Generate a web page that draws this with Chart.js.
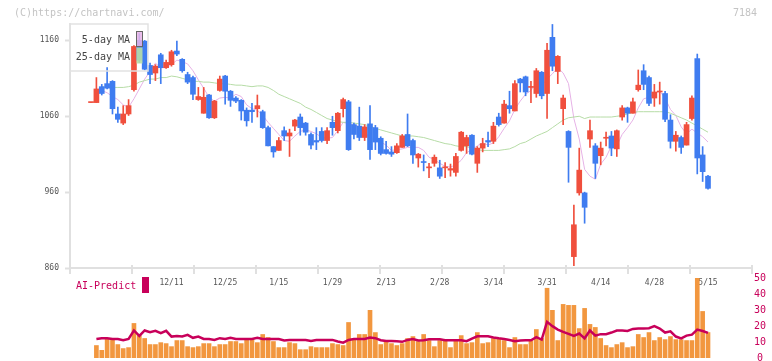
<!DOCTYPE html>
<html>
<head>
<meta charset="utf-8">
<script src="https://cdn.jsdelivr.net/npm/chart.js@4.4.1/dist/chart.umd.min.js"></script>
<style>
  html, body { margin: 0; padding: 0; background: #fff; }
  #wrap { position: relative; width: 772px; height: 361px; overflow: hidden; font-family: "DejaVu Sans Mono", monospace; }
  #wrap canvas { position: absolute; left: 0; top: 0; }
  .note { position: absolute; top: 6px; font-size: 10px; line-height: 13px; color: #c4c4c4; }
</style>
</head>
<body>
<div id="wrap">
  <canvas id="price" width="772" height="361"></canvas>
  <canvas id="volume" width="772" height="378"></canvas>
  <div class="note" style="left:14px">(C)https://chartnavi.com/</div>
  <div class="note" style="right:15px">7184</div>
</div>
<script>
// daily candles, 11/20 .. 5/15
const OPEN = [1078,1078,1099,1103,1106,1063,1051,1063,1095,1160,1159,1127,1117,1141,1124,1128,1146,1135,1115,1111,
  1082,1064,1088,1058,1094,1113,1093,1084,1081,1068,1068,1070,1066,1045,1020,1015,1041,1034,1047,1059,
  1051,1036,1028,1040,1028,1052,1041,1070,1079,1049,1047,1032,1050,1045,1031,1016,1013,1012,1019,1036,
  1028,1005,1000,992,998,992,992,989,986,1015,1021,1035,998,1018,1028,1027,1059,1051,1074,1067,
  1109,1112,1098,1090,1118,1090,1164,1119,1070,1040,875,959,959,1030,1021,1008,1031,1034,1017,1059,
  1071,1064,1095,1120,1111,1084,1092,1090,1055,1027,1032,1022,1057,1136,1009,981];
const HIGH = [1078,1111,1102,1124,1107,1072,1074,1082,1153,1169,1160,1130,1128,1143,1134,1147,1159,1136,1118,1113,
  1098,1098,1089,1081,1113,1114,1094,1086,1082,1071,1077,1088,1068,1047,1020,1032,1046,1043,1056,1063,
  1052,1038,1045,1045,1045,1060,1065,1084,1081,1051,1072,1049,1074,1048,1033,1027,1020,1024,1036,1063,
  1030,1011,1009,998,1009,1002,999,997,1011,1040,1035,1036,1020,1031,1039,1052,1064,1081,1093,1107,
  1110,1113,1106,1123,1119,1156,1181,1140,1088,1041,943,1018,960,1055,1024,1026,1039,1040,1042,1074,
  1072,1084,1121,1128,1113,1102,1105,1093,1062,1040,1034,1052,1087,1142,1020,982];
const LOW = [1078,1078,1088,1096,1063,1052,1049,1061,1093,1131,1121,1103,1107,1103,1123,1126,1140,1118,1103,1082,
  1081,1064,1057,1057,1093,1076,1073,1078,1055,1047,1052,1059,1044,1021,1006,1015,1028,1007,1041,1035,
  1035,1017,1016,1026,1024,1035,1038,1059,1015,1030,1028,1028,1003,1016,1009,1010,1007,1011,1019,1020,
  998,993,988,979,994,978,979,981,981,1014,1011,1009,986,1013,1020,1024,1047,1051,1064,1067,
  1092,1087,1078,1085,1083,1057,1120,1103,1049,973,863,956,919,1019,978,996,1021,1008,1007,1055,
  1052,1064,1093,1095,1074,1073,1076,1053,1018,1014,1011,1022,1055,984,974,964];
const CLOSE = [1078,1096,1090,1097,1070,1056,1063,1074,1152,1134,1122,1115,1126,1124,1131,1145,1142,1120,1105,1089,
  1086,1085,1058,1080,1109,1093,1081,1080,1067,1054,1066,1074,1045,1021,1013,1028,1034,1038,1055,1045,
  1039,1022,1026,1028,1041,1045,1064,1082,1016,1036,1032,1046,1016,1026,1011,1011,1010,1021,1034,1021,
  1009,1010,999,993,1006,981,993,991,1007,1039,1032,1010,1018,1024,1026,1047,1049,1076,1070,1103,
  1104,1092,1099,1120,1087,1147,1126,1139,1084,1019,917,989,940,1041,998,1018,1032,1018,1041,1071,
  1064,1079,1101,1102,1077,1092,1093,1056,1027,1035,1019,1049,1084,1005,987,965];

const MA5 = [null,null,1094,1091,1086,1082,1075,1072,1083,1096,1109,1119,1130,1124,1124,1128,1134,1132,1129,1120,
  1108,1097,1085,1080,1084,1085,1084,1089,1086,1075,1070,1068,1061,1052,1044,1036,1028,1027,1034,1040,
  1042,1040,1037,1032,1031,1032,1041,1052,1050,1049,1046,1042,1029,1031,1026,1022,1015,1016,1017,1019,
  1019,1019,1015,1006,1003,998,994,993,996,1002,1012,1016,1021,1025,1022,1025,1033,1044,1054,1069,
  1080,1089,1094,1104,1100,1109,1116,1124,1117,1103,1057,1030,990,981,977,997,1006,1021,1021,1036,
  1045,1055,1071,1083,1085,1090,1093,1084,1069,1061,1046,1037,1043,1038,1033,1026];
const MA25 = [null,null,1099,1098,1098,1098,1098,1099,1101,1105,1107,1109,1109,1111,1111,1113,1112,1110,1108,1106,
  1106,1105,1105,1104,1103,1103,1102,1101,1101,1100,1099,1100,1100,1098,1094,1089,1086,1083,1080,1077,
  1072,1069,1065,1061,1057,1055,1053,1052,1052,1051,1050,1049,1047,1044,1042,1040,1038,1036,1034,1034,
  1034,1033,1032,1030,1028,1026,1024,1023,1021,1020,1020,1018,1016,1015,1015,1015,1015,1016,1017,1020,
  1024,1026,1030,1034,1037,1040,1045,1050,1055,1058,1059,1060,1057,1059,1059,1059,1059,1059,1060,1061,
  1063,1065,1066,1066,1066,1066,1066,1066,1064,1061,1058,1055,1051,1047,1043,1039];

const VOLUME = [null,7.8,4.8,12.2,12.2,8.4,5.9,6.5,21.6,14.0,12.2,8.4,8.4,9.6,9.0,7.1,10.9,10.9,7.1,6.5,
  7.1,9.0,9.0,7.1,8.4,8.4,10.3,10.3,9.0,11.5,11.5,9.6,14.7,12.8,10.3,6.5,6.5,9.6,9.0,5.2,
  5.2,7.1,6.5,6.5,6.5,9.0,8.4,7.8,22.2,11.5,14.7,14.7,29.8,15.9,8.4,10.9,9.0,7.8,9.0,12.2,
  13.4,10.3,14.7,10.9,7.1,10.9,11.5,6.5,10.9,14.0,9.0,9.6,15.9,9.0,9.6,12.2,12.2,10.9,6.5,12.8,
  8.4,8.4,10.9,17.8,12.2,43.6,29.8,10.9,33.5,32.9,32.9,18.4,31.0,21.0,19.1,12.2,7.8,6.5,8.4,9.6,
  6.5,7.1,14.7,12.8,15.9,10.9,12.8,11.5,13.4,11.5,11.5,10.9,10.9,49.9,29.1,15.9];
const AI_PREDICT = [null,11.9,12.4,12.4,11.9,11.9,11.1,11.9,17.2,13.8,17.2,16.1,17.0,15.5,17.0,13.4,13.8,13.4,14.5,12.6,
  13.4,11.9,11.9,11.3,12.4,11.9,12.6,11.9,11.9,11.9,11.9,12.6,11.9,11.9,11.9,11.9,10.9,11.3,11.3,11.3,
  11.3,10.7,11.3,11.3,11.3,11.3,10.3,9.6,11.3,11.9,11.9,11.9,12.8,12.4,11.1,10.7,10.7,10.5,10.1,11.3,
  11.9,10.9,11.1,11.7,11.7,11.7,11.1,11.1,11.1,11.1,10.5,12.1,13.6,13.6,13.6,12.8,12.3,11.9,11.3,10.5,
  10.9,11.1,11.1,13.0,11.5,22.6,19.9,17.8,16.3,15.1,13.8,15.3,12.3,17.2,14.0,14.9,14.9,15.9,17.2,17.2,
  16.9,18.2,18.4,18.4,18.6,19.9,18.4,15.9,16.7,13.4,12.3,14.0,14.6,17.8,16.9,15.7];

const DATE_TICKS = [15, 25, 35, 45, 55, 65, 75, 85, 95, 105, 115];
const DATE_LABELS = ["12/11", "12/25", "1/15", "1/29", "2/13", "2/28", "3/14", "3/31", "4/14", "4/28", "5/15"];
const PRICE_TICKS = [860, 960, 1060, 1160];
const AI_TICKS = [0, 10, 20, 30, 40, 50];

const MONO = "'DejaVu Sans Mono', monospace";
const UP = "#f04f3d";
const DOWN = "#3f7cf0";
const AI_COLOR = "#c8005a";
const X_MIN = -3.92, X_MAX = 123.2;

const candleColor = CLOSE.map((c, i) => (c >= OPEN[i] ? UP : DOWN));
const points = arr => arr.map((v, i) => ({ x: i, y: v }));

// legend box in the top left corner of the price panel
const maLegend = {
  id: "maLegend",
  afterDatasetsDraw(chart) {
    const { ctx, chartArea: a } = chart;
    ctx.save();
    ctx.strokeStyle = "#e2e2e2";
    ctx.lineWidth = 1.5;
    ctx.strokeRect(a.left, a.top, 78, 47);
    ctx.font = "10px " + MONO;
    ctx.fillStyle = "#444";
    ctx.textAlign = "right";
    ctx.textBaseline = "middle";
    ctx.fillText("5-day MA", a.left + 60, a.top + 16);
    ctx.fillText("25-day MA", a.left + 60, a.top + 33);
    ctx.lineWidth = 1;
    ctx.strokeStyle = "#666";
    ctx.fillStyle = "rgba(232,180,232,0.85)";
    ctx.fillRect(a.left + 66.5, a.top + 7.5, 6, 15);
    ctx.strokeRect(a.left + 66.5, a.top + 7.5, 6, 15);
    ctx.fillStyle = "rgba(184,222,166,0.9)";
    ctx.fillRect(a.left + 66.5, a.top + 23.5, 6, 16);
    ctx.restore();
  }
};

// evenly spaced marks on the bottom axis
const axisMarks = {
  id: "axisMarks",
  afterDraw(chart) {
    const { ctx, chartArea: a } = chart;
    ctx.save();
    ctx.strokeStyle = "#e0e0e0";
    ctx.lineWidth = 2;
    for (let k = 0; k <= 11; k++) {
      const x = a.left + ((a.right - a.left) * k) / 11;
      ctx.beginPath();
      ctx.moveTo(x, a.bottom - 3);
      ctx.lineTo(x, a.bottom + 6);
      ctx.stroke();
    }
    ctx.restore();
  }
};

const aiLabel = {
  id: "aiLabel",
  afterDraw(chart) {
    const { ctx, chartArea: a } = chart;
    ctx.save();
    ctx.font = "10px " + MONO;
    ctx.fillStyle = AI_COLOR;
    ctx.textBaseline = "middle";
    ctx.fillText("AI-Predict", a.left + 6, a.top + 8);
    ctx.fillRect(a.left + 72, a.top - 1, 7, 16);
    ctx.restore();
  }
};

new Chart(document.getElementById("price"), {
  type: "bar",
  data: {
    datasets: [
      { type: "line", label: "5-day MA", data: points(MA5), borderColor: "#e6b2e6", borderWidth: 1, pointRadius: 0, order: 4 },
      { type: "line", label: "25-day MA", data: points(MA25), borderColor: "#b6dca6", borderWidth: 1, pointRadius: 0, order: 3 },
      { label: "range", data: HIGH.map((h, i) => ({ x: i, y: [LOW[i], h] })), backgroundColor: candleColor, barThickness: 1, grouped: false, order: 2 },
      { label: "body", data: OPEN.map((o, i) => ({ x: i, y: [o, CLOSE[i]] })), backgroundColor: candleColor, barThickness: 5, minBarLength: 1, grouped: false, order: 1 }
    ]
  },
  options: {
    responsive: false,
    animation: false,
    devicePixelRatio: 1,
    layout: { padding: { top: 24, right: 20, left: 0, bottom: 0 } },
    plugins: { legend: { display: false }, tooltip: { enabled: false } },
    scales: {
      x: {
        type: "linear", min: X_MIN, max: X_MAX, offset: false,
        afterFit: s => { s.height = 93; },
        afterBuildTicks: s => { s.ticks = DATE_TICKS.map(v => ({ value: v })); },
        ticks: { callback: (v, i) => DATE_LABELS[i], color: "#555", font: { family: MONO, size: 8 }, padding: 10, maxRotation: 0, autoSkip: false },
        grid: { display: false, drawTicks: false },
        border: { color: "#e0e0e0", width: 2 }
      },
      y: {
        min: 860, max: 1181.6,
        afterFit: s => { s.width = 70; },
        afterBuildTicks: s => { s.ticks = PRICE_TICKS.map(v => ({ value: v })); },
        ticks: { callback: v => String(v), color: "#555", font: { family: MONO, size: 8 }, padding: 6 },
        grid: { drawOnChartArea: false, tickLength: 5, color: "#e0e0e0", tickWidth: 2 },
        border: { color: "#e0e0e0", width: 2 }
      }
    }
  },
  plugins: [maLegend, axisMarks]
});

new Chart(document.getElementById("volume"), {
  type: "bar",
  data: {
    datasets: [
      { type: "line", label: "AI-Predict", data: points(AI_PREDICT), borderColor: AI_COLOR, borderWidth: 2.5, pointRadius: 0, order: 1 },
      { label: "volume", data: points(VOLUME), backgroundColor: "#f2973f", barThickness: 4, order: 2 }
    ]
  },
  options: {
    responsive: false,
    animation: false,
    devicePixelRatio: 1,
    layout: { padding: { top: 278, right: 0, left: 70, bottom: 20 } },
    plugins: { legend: { display: false }, tooltip: { enabled: false } },
    scales: {
      x: { type: "linear", min: X_MIN, max: X_MAX, offset: false, display: false },
      y: {
        position: "right", min: 0, max: 50,
        afterFit: s => { s.width = 20; },
        afterBuildTicks: s => { s.ticks = AI_TICKS.map(v => ({ value: v })); },
        ticks: { color: AI_COLOR, font: { family: MONO, size: 10 }, padding: 2, crossAlign: "center" },
        grid: { display: false, drawTicks: false },
        border: { display: false }
      }
    }
  },
  plugins: [aiLabel]
});
</script>
</body>
</html>
